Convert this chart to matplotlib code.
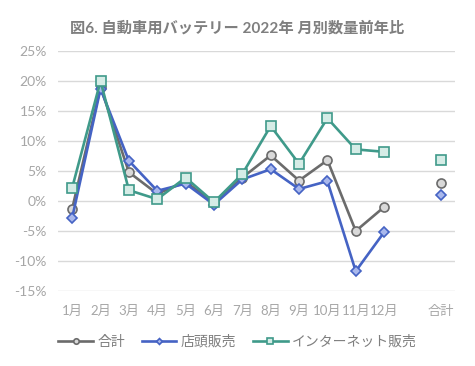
import matplotlib
matplotlib.use("Agg")
import matplotlib.pyplot as plt
from matplotlib.ticker import FuncFormatter

months = ["1月", "2月", "3月", "4月", "5月", "6月", "7月", "8月", "9月", "10月", "11月", "12月"]
total_label = "合計"

total = [-1.3, 19.0, 4.8, 1.2, 3.2, -0.3, 3.9, 7.6, 3.4, 6.8, -5.0, -1.0]
store = [-2.8, 18.7, 6.7, 1.7, 2.9, -0.6, 3.6, 5.3, 2.0, 3.3, -11.7, -5.2]
online = [2.2, 20.0, 1.8, 0.3, 3.9, -0.2, 4.5, 12.5, 6.2, 13.8, 8.6, 8.2]
sum_vals = {"total": 3.0, "store": 1.0, "online": 6.9}

yticks = [-15, -10, -5, 0, 5, 10, 15, 20, 25]

plt.rcParams["font.family"] = ["Lato", "Noto Sans CJK JP", "DejaVu Sans"]

fig = plt.figure(figsize=(4.75, 3.66), dpi=100)
ax = fig.add_axes([58 / 475, 75 / 366, 397 / 475, 240 / 366])

x = list(range(len(months)))
xs = len(months) + 1

series = [
    ("合計", total, "total", "#6b6b6b", "#d9d9d9", "o", 6.5),
    ("店頭販売", store, "store", "#4563c4", "#a9b8ec", "D", 5),
    ("インターネット販売", online, "online", "#3f9a8a", "#d5ece6", "s", 6.5),
]
for label, vals, key, col, fill, mk, ms in series:
    ax.plot(x, vals, color=col, lw=1.9, marker=mk, ms=ms, mfc=fill, mec=col,
            mew=1.2, label=label, zorder=3)
    ax.plot([xs], [sum_vals[key]], ls="none", marker=mk, ms=ms, mfc=fill,
            mec=col, mew=1.2, zorder=3)

ax.set_xlim(-0.5, xs + 0.5)
ax.set_ylim(-15, 25)
ax.set_yticks(yticks)
ax.yaxis.set_major_formatter(FuncFormatter(lambda v, p: f"{v:.0f}%"))
ax.set_xticks(x + [xs])
ax.set_xticklabels(months + [total_label])
ax.grid(axis="y", color="#d9d9d9", lw=1)
ax.set_axisbelow(True)
for s in ax.spines.values():
    s.set_visible(False)
ax.tick_params(length=0, colors="#a6a6a6", labelsize=10)
ax.tick_params(axis="x", pad=10, labelsize=9.5)
ax.tick_params(axis="y", pad=8)

fig.text(0.5, 338 / 366, "図6. 自動車用バッテリー 2022年 月別数量前年比",
         ha="center", va="center", fontsize=11, fontweight="bold", color="#7f7f7f")

fig.legend(loc="center", bbox_to_anchor=(0.5, 25 / 366), ncol=3, frameon=False,
           fontsize=10, labelcolor="#7f7f7f", handlelength=2.5,
           columnspacing=1.2, handletextpad=0.3, markerscale=0.6)

fig.savefig("out.png", dpi=100)
